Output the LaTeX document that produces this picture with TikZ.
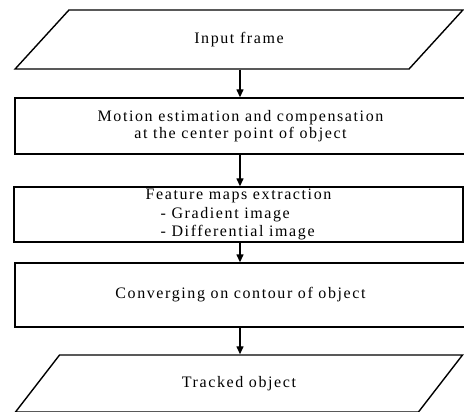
\documentclass[tikz,border=0pt]{standalone}
\usepackage{fontspec}
\setmainfont{Liberation Serif}[LetterSpace=10]
\usetikzlibrary{shapes.geometric,
	arrows.meta,
	positioning}

\begin{document}
\begin{tikzpicture}[x=1pt, y=-1pt,
                    box/.style={draw, rectangle, line width=1.4pt, inner sep=0pt,
                                font=\fontsize{16}{17}\selectfont, align=center},
                    io/.style={draw, trapezium, trapezium left angle=46, trapezium right angle=134,
                               trapezium stretches=true, line width=1.4pt, inner sep=0pt,
                               minimum width=448pt, font=\fontsize{16}{17}\selectfont},
                    flow/.style={-{Triangle[length=8pt, width=7pt]}, line width=1.4pt}]
                            \useasboundingbox (0,0) rectangle (464,412);
                            \node (input) [io, minimum height=59pt] at (239,39.5) {Input frame};
                            \node (motion) [box, minimum width=451pt, minimum height=56pt] at (240.5,126)
                                {Motion estimation and compensation\\at the center point of object};
                            \node (feature) [box, minimum width=449pt, minimum height=55pt, align=left,
                                             font=\fontsize{16}{18.5}\selectfont] at (238.5,214.5)
                                {Feature maps extraction\\\hspace*{15pt}- Gradient image\\\hspace*{15pt}- Differential image};
                            \node (contour) [box, minimum width=451pt, minimum height=64pt] at (240.5,295)
                                {Converging on contour of object};
                            \node (tracked) [io, minimum height=57pt] at (239,383.5) {Tracked object};
                            \draw [flow] (input.south -| 240,0) -- (motion.north -| 240,0);
                            \draw [flow] (motion.south -| 240,0) -- (feature.north -| 240,0);
                            \draw [flow] (feature.south -| 240,0) -- (contour.north -| 240,0);
                            \draw [flow] (contour.south -| 240,0) -- (tracked.north -| 240,0);
                        \end{tikzpicture}
\end{document}
